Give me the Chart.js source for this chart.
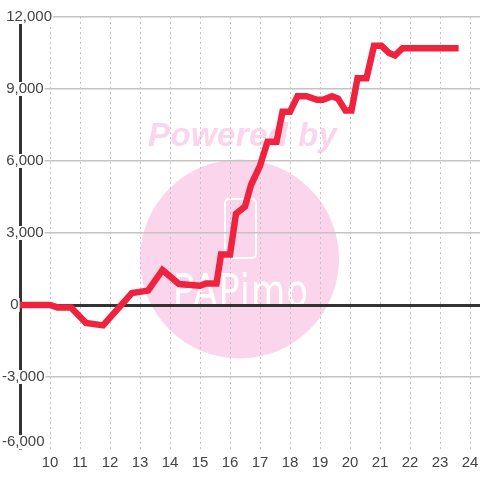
<!DOCTYPE html>
<html>
<head>
<meta charset="utf-8">
<script src="https://cdn.jsdelivr.net/npm/chart.js@4"></script>
<style>
html, body { margin: 0; padding: 0; background: #fff; }
canvas { display: block; }
</style>
</head>
<body>
<canvas id="chartCanvas" width="480" height="480"></canvas>
<script>
var hours = [9, 10, 10.25, 10.7, 11.2, 11.77, 12.73, 13.27, 13.75, 14.3, 15, 15.2, 15.55, 15.7, 16, 16.2, 16.5, 16.7, 17, 17.25, 17.55, 17.75, 18, 18.25, 18.55, 18.9, 19.1, 19.4, 19.6, 19.85, 20.05, 20.25, 20.55, 20.8, 21.05, 21.3, 21.5, 21.75, 22.2, 23.62];
var values = [0, 0, -100, -100, -750, -850, 500, 600, 1460, 875, 800, 900, 900, 2100, 2100, 3800, 4100, 5000, 5800, 6800, 6800, 8050, 8050, 8700, 8700, 8550, 8550, 8700, 8600, 8100, 8100, 9450, 9450, 10800, 10800, 10500, 10400, 10700, 10700, 10700];
var yLabels = { "12000": " 12,000", "9000": " 9,000", "6000": " 6,000", "3000": " 3,000", "0": "  0", "-3000": "-3,000" };
var xLabels = [10, 11, 12, 13, 14, 15, 16, 17, 18, 19, 20, 21, 22, 23, 24];

var points = [];
for (var i in hours) {
	points.push({ x: hours[i], y: values[i] });
}

// watermark sits under the grid
var watermark = {
	id: "watermark",
	beforeDraw: function(chart) {
		var c = chart.ctx;
		c.save();
		c.fillStyle = "#fff";
		c.fillRect(0, 0, 480, 480);
		c.fillStyle = "#fbd5ec";
		c.beginPath();
		c.arc(239.5, 259, 99.5, 0, Math.PI * 2);
		c.fill();
		c.font = "italic bold 33px 'Liberation Sans'";
		c.textAlign = "left";
		c.textBaseline = "alphabetic";
		c.letterSpacing = "0.4px";
		c.fillText("Powered by", 148, 146);
		c.strokeStyle = "#fff";
		c.lineWidth = 2;
		c.beginPath();
		c.roundRect(225, 199, 31, 59, 4);
		c.stroke();
		c.fillStyle = "#fff";
		c.font = "44px 'DejaVu Sans'";
		c.letterSpacing = "1.5px";
		c.translate(173, 306);
		c.scale(0.8, 1);
		c.fillText("PAPimo", 0, 0);
		c.restore();
	}
};

var ctx = document.getElementById("chartCanvas");
var lineGraph = new Chart(ctx, {
	type: "line",
	data: {
		datasets: [
			{
				data: points,
				borderColor: "#f0233f",
				borderWidth: 6.5,
				tension: 0,
				pointRadius: 0,
				fill: false
			}
		]
	},
	plugins: [watermark],
	options: {
		responsive: false,
		animation: false,
		layout: { padding: { left: 2, top: 17, right: 0, bottom: 0 } },
		plugins: { legend: { display: false }, tooltip: { enabled: false } },
		scales: {
			x: {
				type: "linear",
				min: 9,
				max: 24.333,
				afterFit: function(scale) {
					scale.height = 31;
					scale.paddingLeft = 0;
					scale.paddingRight = 0;
				},
				border: { display: false, dash: [2, 3] },
				grid: { color: "#c4c4c4", lineWidth: 1, drawTicks: false },
				ticks: {
					stepSize: 1,
					includeBounds: false,
					autoSkip: false,
					maxRotation: 0,
					padding: 5,
					color: "#444",
					font: { family: "'Liberation Sans'", size: 15 },
					callback: function(v) { return xLabels.indexOf(v) >= 0 ? String(v) : null; }
				}
			},
			y: {
				type: "linear",
				min: -6000,
				max: 12000,
				afterFit: function(scale) {
					scale.width = 18;
					scale.paddingTop = 0;
					scale.paddingBottom = 0;
				},
				border: { display: true, color: "#333", width: 3 },
				grid: {
					drawTicks: false,
					color: function(c) { return c.tick.value === 0 ? "#333" : "#c4c4c4"; },
					lineWidth: function(c) { return c.tick.value === 0 ? 3 : 1.5; }
				},
				ticks: {
					stepSize: 1000,
					autoSkip: false,
					mirror: true,
					padding: -18,
					color: "#444",
					font: { family: "'Liberation Sans'", size: 15 },
					showLabelBackdrop: true,
					backdropColor: "#fff",
					backdropPadding: { top: -2, bottom: -2, left: 1, right: 1 },
					callback: function(v) {
						return yLabels[v] === undefined ? null : yLabels[v];
					}
				}
			},
			// bottom label sits a little above its gridline
			yBottom: {
				type: "linear",
				position: "left",
				min: -6000,
				max: 12000,
				afterBuildTicks: function(scale) { scale.ticks = [{ value: -5708 }]; },
				afterFit: function(scale) {
					scale.width = 0;
					scale.paddingTop = 0;
					scale.paddingBottom = 0;
				},
				border: { display: false },
				grid: { display: false, drawTicks: false },
				ticks: {
					z: 1,
					mirror: true,
					padding: 0,
					color: "#444",
					font: { family: "'Liberation Sans'", size: 15 },
					showLabelBackdrop: true,
					backdropColor: "#fff",
					backdropPadding: { top: -2, bottom: -2, left: 1, right: 1 },
					callback: function() { return "-6,000"; }
				}
			}
		}
	}
});
</script>
</body>
</html>
